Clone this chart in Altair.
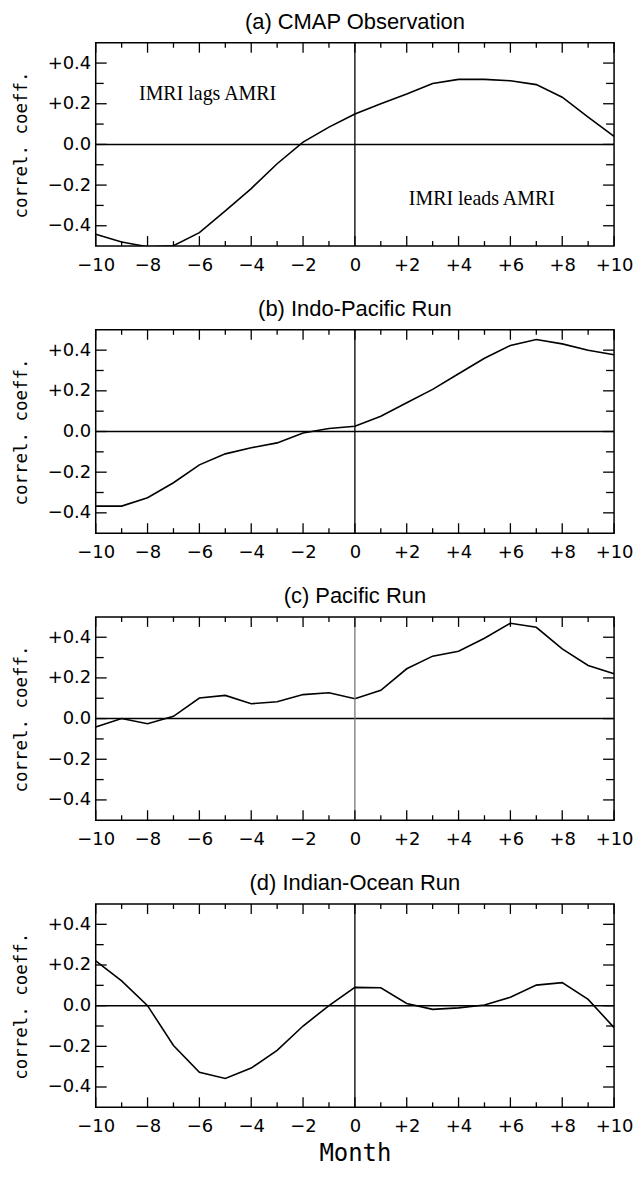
import altair as alt
import pandas as pd

# ---- data ----
MONTHS = list(range(-10, 11))
CMAP = [-0.442, -0.48, -0.503, -0.498, -0.434, -0.327, -0.217, -0.095, 0.011, 0.085,
        0.150, 0.200, 0.248, 0.300, 0.320, 0.320, 0.313, 0.294, 0.232, 0.134, 0.040]
INDO_PACIFIC = [-0.367, -0.367, -0.326, -0.252, -0.164, -0.110, -0.080, -0.056, -0.007, 0.015,
                0.026, 0.075, 0.141, 0.207, 0.284, 0.360, 0.423, 0.452, 0.431, 0.400, 0.377]
PACIFIC = [-0.041, 0.000, -0.025, 0.011, 0.101, 0.114, 0.073, 0.083, 0.118, 0.127,
           0.098, 0.139, 0.245, 0.307, 0.331, 0.395, 0.469, 0.449, 0.343, 0.261, 0.220]
INDIAN = [0.220, 0.122, 0.000, -0.196, -0.328, -0.358, -0.307, -0.220, -0.100, 0.000,
          0.090, 0.088, 0.011, -0.018, -0.011, 0.003, 0.041, 0.101, 0.113, 0.031, -0.108]

TITLES = ["(a) CMAP Observation", "(b) Indo-Pacific Run", "(c) Pacific Run", "(d) Indian-Ocean Run"]

X_MAJOR = [-10, -8, -6, -4, -2, 0, 2, 4, 6, 8, 10]
X_MINOR = [-9, -7, -5, -3, -1, 1, 3, 5, 7, 9]
Y_MAJOR = [-0.4, -0.2, 0.0, 0.2, 0.4]
Y_MINOR = [-0.3, -0.1, 0.1, 0.3]

NOTE_TEXT = ["IMRI lags AMRI", "IMRI leads AMRI"]
NOTE_X = [-8.33, 2.08]
NOTE_Y = [0.25, -0.27]

W, H = 520, 204


def panel(title, values, zero_color, last=False, notes=False):
    xs = alt.Scale(domain=[-10, 10], nice=False, zero=False)
    ys = alt.Scale(domain=[-0.5, 0.5], nice=False, zero=False)
    df = pd.DataFrame({"month": MONTHS, "r": values})

    xaxis_kw = dict(
        values=X_MAJOR,
        labelExpr="datum.value > 0 ? '+' + datum.label : datum.label",
        ticks=False, tickSize=0, domain=False, grid=False,
        labelFont="DejaVu Sans", labelFontSize=18, labelColor="black",
        labelPadding=10, labelFlush=False, labelOverlap=False,
    )
    if last:
        xaxis_kw.update(title="Month", titleFont="DejaVu Sans Mono", titleFontSize=24,
                        titleFontWeight="normal", titleColor="black", titlePadding=6)
    else:
        xaxis_kw.update(title=None)
    xaxis = alt.Axis(**xaxis_kw)

    yaxis = alt.Axis(
        values=Y_MAJOR,
        labelExpr="datum.value > 0 ? '+' + format(datum.value, '.1f') : format(datum.value, '.1f')",
        ticks=False, tickSize=0, domain=False, grid=False,
        labelFont="DejaVu Sans", labelFontSize=18, labelColor="black", labelPadding=5,
        labelFlush=False, labelOverlap=False,
        title="correl. coeff.", titleFont="DejaVu Sans Mono", titleFontSize=17.5,
        titleFontWeight="normal", titleColor="black", titlePadding=17,
    )

    def X(f):
        return alt.X(f, scale=xs, axis=xaxis)

    def Y(f):
        return alt.Y(f, scale=ys, axis=yaxis)

    line = alt.Chart(df).mark_line(color="black", strokeWidth=1.6, clip=True).encode(
        x=X("month:Q"), y=Y("r:Q"))

    zdf = pd.DataFrame({"month": [0], "r": [0]})
    hzero = alt.Chart(zdf).mark_rule(color="black", strokeWidth=1.5).encode(y=Y("r:Q"))
    vzero = alt.Chart(zdf).mark_rule(color=zero_color, strokeWidth=1.3).encode(x=X("month:Q"))

    def xticks(vals, length):
        d = pd.DataFrame({"month": vals})
        b = alt.Chart(d).mark_rule(color="black", strokeWidth=1.3).encode(
            x=X("month:Q"), y=alt.value(H), y2=alt.value(H - length))
        t = alt.Chart(d).mark_rule(color="black", strokeWidth=1.3).encode(
            x=X("month:Q"), y=alt.value(0), y2=alt.value(length))
        return [b, t]

    def yticks(vals, length):
        d = pd.DataFrame({"r": vals})
        l = alt.Chart(d).mark_rule(color="black", strokeWidth=1.3).encode(
            y=Y("r:Q"), x=alt.value(0), x2=alt.value(length))
        r = alt.Chart(d).mark_rule(color="black", strokeWidth=1.3).encode(
            y=Y("r:Q"), x=alt.value(W - length), x2=alt.value(W))
        return [l, r]

    layers = [line, hzero, vzero] + xticks(X_MAJOR, 10) + xticks(X_MINOR, 5) \
        + yticks(Y_MAJOR, 11) + yticks(Y_MINOR, 8)

    if notes:
        ndf = pd.DataFrame({"month": NOTE_X, "r": NOTE_Y, "text": NOTE_TEXT})
        layers.append(
            alt.Chart(ndf).mark_text(align="left", baseline="middle", font="Liberation Serif",
                                     fontSize=20, color="black").encode(
                x=X("month:Q"), y=Y("r:Q"), text="text:N")
        )

    return alt.layer(*layers).properties(
        width=W, height=H,
        title=alt.TitleParams(text=title, font="Liberation Sans", fontSize=22,
                              fontWeight="normal", color="black", anchor="middle", offset=8),
    )


panels = [
    panel(TITLES[0], CMAP, "black", notes=True),
    panel(TITLES[1], INDO_PACIFIC, "black"),
    panel(TITLES[2], PACIFIC, "#777777"),
    panel(TITLES[3], INDIAN, "black", last=True),
]

chart = alt.vconcat(*panels, spacing=22).properties(
    padding={"left": 3, "top": 0, "right": 0, "bottom": 0},
    background="white",
).configure_view(stroke="black", strokeWidth=1.5)

chart.save("out.html", embed_options={"renderer": "svg", "actions": False})
